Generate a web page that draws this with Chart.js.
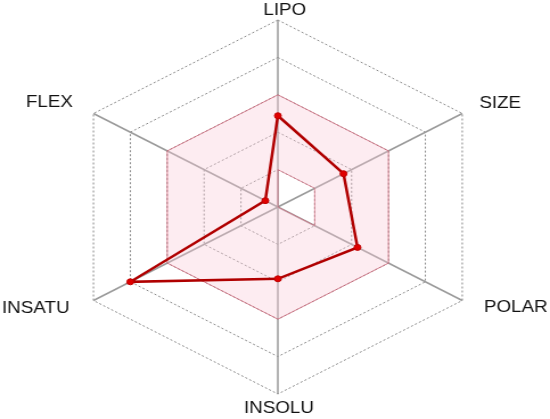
<!DOCTYPE html>
<html>
<head>
<meta charset="utf-8">
<script src="https://cdn.jsdelivr.net/npm/chart.js@4"></script>
<style>
    html, body { margin: 0; padding: 0; background: #fff; overflow: hidden; }
    #radar { display: block; }
</style>
</head>
<body>
<canvas id="radar" width="483" height="419" style="width:550px;height:419px"></canvas>
<script>
// radar axes and values
const axisLabels = ['LIPO', 'SIZE', 'POLAR', 'INSOLU', 'INSATU', 'FLEX'];
const moleculeValues = [2.44, 1.78, 2.16, 1.92, 4.0, 0.34];
const rangeUpper = [3, 3, 3, 3, 3, 3];
const rangeLower = [1, 1, 1, 0, 0, 0];
const ringMax = 5;

// label offsets from the outer vertex (canvas px), and text alignment
const labelOffsets = [[6, -10, 'center'], [15, -10, 'left'], [19, 7, 'left'], [1, 14, 'center'], [-21, 8, 'right'], [-18, -11, 'right']];

const axisLabelPlugin = {
    id: 'axisLabels',
    afterDraw: (chart) => {
        const scale = chart.scales.r;
        const ctx = chart.ctx;
        ctx.save();
        ctx.font = '16.5px "Liberation Sans", Arial, sans-serif';
        ctx.fillStyle = '#111';
        ctx.textBaseline = 'middle';
        axisLabels.forEach((label, i) => {
            const pos = scale.getPointPositionForValue(i, ringMax);
            const off = labelOffsets[i];
            ctx.textAlign = off[2];
            ctx.fillText(label, pos.x + off[0], pos.y + off[1]);
        });
        ctx.restore();
    }
};

const drawRadar = () => {
    return new Chart(document.getElementById('radar').getContext('2d'), {
        type: 'radar',
        data: {
            labels: axisLabels,
            datasets: [{
                data: moleculeValues,
                borderColor: '#b00000',
                borderWidth: 2.5,
                backgroundColor: 'rgba(0,0,0,0)',
                fill: false,
                pointRadius: 3,
                pointBackgroundColor: '#e00000',
                pointBorderColor: '#c00000',
                pointBorderWidth: 1,
            }, {
                data: rangeUpper,
                borderColor: 'rgba(205, 95, 115, 0.75)',
                borderWidth: 1,
                backgroundColor: 'rgba(250, 200, 215, 0.35)',
                fill: '+1',
                pointRadius: 0,
            }, {
                data: rangeLower,
                borderColor: 'rgba(205, 95, 115, 0.75)',
                borderWidth: 1,
                backgroundColor: 'rgba(0,0,0,0)',
                fill: false,
                pointRadius: 0,
            }]
        },
        options: {
            responsive: false,
            devicePixelRatio: 1,
            animation: false,
            layout: {
                padding: { left: 57, right: 52, top: 20, bottom: 25 }
            },
            plugins: {
                legend: { display: false },
                tooltip: { enabled: false },
            },
            elements: {
                line: { tension: 0 }
            },
            scales: {
                r: {
                    min: 0,
                    max: ringMax,
                    ticks: { display: false, stepSize: 1 },
                    pointLabels: { display: false },
                    grid: { color: '#8a8a8a', lineWidth: 1 },
                    border: { dash: [2, 2] },
                    angleLines: { color: '#9a9a9a', lineWidth: 1.5, borderDash: [] },
                }
            }
        },
        plugins: [axisLabelPlugin]
    });
};

drawRadar();
</script>
</body>
</html>
